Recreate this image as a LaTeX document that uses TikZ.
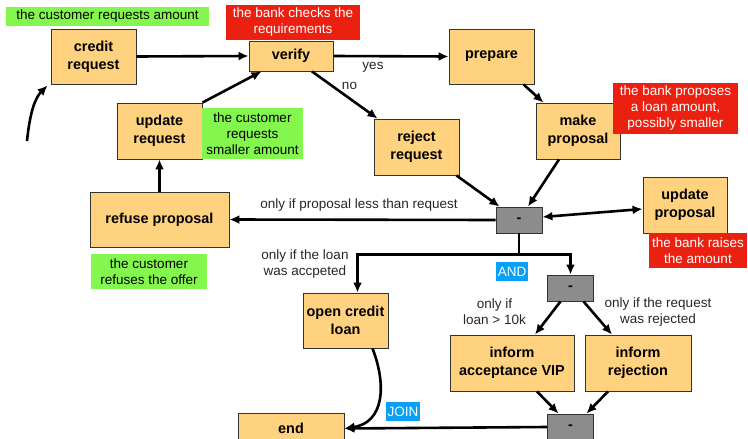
\documentclass[tikz,border=0pt]{standalone}
\usepackage{fontspec}
\setmainfont{Liberation Sans}
\usepackage{xcolor}
\usetikzlibrary{arrows.meta}

\definecolor{taskorange}{HTML}{FFD27F}
\definecolor{gategray}{HTML}{8C8C8C}
\definecolor{notegreen}{HTML}{84F74F}
\definecolor{notered}{HTML}{EC2010}
\definecolor{noteblue}{HTML}{0AA0F5}

\begin{document}
\begin{tikzpicture}[x=1pt,y=-1pt,
    task/.style 2 args={draw=black!80,fill=taskorange,line width=0.9pt,inner sep=0pt,
        minimum width=#1,minimum height=#2,align=center,
        font=\bfseries\fontsize{14.4}{18}\selectfont},
    gate/.style={draw=black!80,fill=gategray,line width=0.9pt,inner sep=0pt,
        minimum width=46pt,minimum height=26pt,font=\bfseries\fontsize{14.4}{18}\selectfont},
    note/.style n args={3}{fill=#1,inner sep=0pt,minimum width=#2,minimum height=#3,
        align=center,font=\fontsize{13.5}{16}\selectfont},
    lbl/.style={align=center,text=black!85,font=\fontsize{13.5}{16}\selectfont},
    flow/.style={line width=2.6pt,-{Latex[length=10pt,width=9pt]}},
    plain/.style={line width=2.6pt}]
    \useasboundingbox (0,0) rectangle (748,439);

    % tasks
    \node[task={85pt}{55pt}] (credit) at (93.5,56.5) {credit\\request};
    \node[task={84pt}{30pt}] (verify) at (291,56) {verify};
    \node[task={85pt}{55pt}] (prep) at (491.5,56.5) {prepare};
    \node[task={85pt}{56pt}] (update) at (159.5,131) {update\\request};
    \node[task={85pt}{56pt}] (reject) at (416.5,147) {reject\\request};
    \node[task={84pt}{56pt}] (make) at (578,131) {make\\proposal};
    \node[task={139pt}{55pt}] (refuse) at (159.5,219.5) {refuse proposal};
    \node[task={84pt}{56pt}] (updp) at (685,205) {update\\proposal};
    \node[task={85pt}{55pt}] (open) at (345.5,320.5) {open credit\\loan};
    \node[task={124pt}{56pt}] (vip) at (512,363) {inform\\acceptance VIP};
    \node[task={106pt}{56pt}] (rej) at (638,363) {inform\\rejection};
    \node[task={106pt}{30pt}] (end) at (291,428.5) {end};

    % gateways
    \node[gate] (gw1) at (519,220) {-};
    \node[gate] (gw2) at (570.5,288) {-};
    \node[gate] (gw3) at (570.5,427) {-};

    % notes
    \node[note={notegreen}{203pt}{19pt}] (n1) at (107.5,16.5) {the customer requests amount};
    \node[note={notered}{134pt}{35pt},text=white] (n2) at (293,22.5) {the bank checks the\\requirements};
    \node[note={notegreen}{101pt}{51pt}] (n3) at (252.5,133.5) {the customer\\requests\\smaller amount};
    \node[note={notered}{125pt}{51pt},text=white] (n4) at (675.5,108.5) {the bank proposes\\a loan amount,\\possibly smaller};
    \node[note={notegreen}{116pt}{35pt}] (n5) at (149,271.5) {the customer\\refuses the offer};
    \node[note={notered}{98pt}{35pt},text=white] (n6) at (698,250.5) {the bank raises\\the amount};
    \node[note={noteblue}{32pt}{19pt},text=white] (andlbl) at (512,271.5) {AND};
    \node[note={noteblue}{34pt}{19pt},text=white] (joinlbl) at (403,411.5) {JOIN};

    % edge labels
    \node[lbl] (yes) at (373,67) {yes};
    \node[lbl] (no) at (349.5,86) {no};
    \node[lbl] (less) at (359,205) {only if proposal less than request};
    \node[lbl] (acc) at (305,264) {only if the loan\\was accpeted};
    \node[lbl] (big) at (494.5,312) {only if\\loan > 10k};
    \node[lbl] (wasrej) at (658,312) {only if the request\\was rejected};

    % flow arrows
    \coordinate (start) at (27,141);
    \draw[flow] (start) .. controls +(3,-30) and +(-12,12) .. ([xshift=-3pt,yshift=-1pt]credit.south west);
    \draw[flow] (credit.east) -- (verify.west);
    \draw[flow] (verify.east) -- (prep.west);
    \draw[flow] ([xshift=21pt]verify.south) -- ([xshift=4pt]reject.north west);
    \draw[flow] (update.north east) -- ([xshift=13pt]verify.south west);
    \draw[flow] (refuse.north) -- (update.south);
    \draw[flow] ([xshift=32pt]prep.south) -- ([xshift=8pt]make.north west);
    \draw[flow] ([xshift=-19pt]make.south) -- ([xshift=9pt]gw1.north);
    \draw[flow] ([xshift=-3pt]reject.south east) -- ([xshift=4pt]gw1.north west);
    \draw[flow] (gw1.west) -- (refuse.east);
    \draw[flow,{Latex[length=10pt,width=9pt]}-{Latex[length=10pt,width=9pt]}]
        ([yshift=3pt]gw1.east) -- ([yshift=-4pt]updp.west);

    % split and join
    \draw[plain] (gw1.south) -- ++(0,21) coordinate (split);
    \draw[flow] (split) -| ([xshift=12pt]open.north);
    \draw[flow] (split) -| (gw2.north);
    \draw[flow] ([xshift=-10pt]gw2.south) -- ([xshift=23pt]vip.north);
    \draw[flow] ([xshift=13pt]gw2.south) -- ([xshift=-26pt]rej.north);
    \draw[flow] ([xshift=25pt]vip.south) -- ([xshift=-12pt]gw3.north);
    \draw[flow] ([xshift=-30pt]rej.south) -- ([xshift=16pt]gw3.north);
    \draw[flow] (gw3.west) -- (end.east);
    \draw[flow] ([xshift=27pt]open.south) .. controls +(14,36) and +(40,-6) .. (end.east);
\end{tikzpicture}
\end{document}
